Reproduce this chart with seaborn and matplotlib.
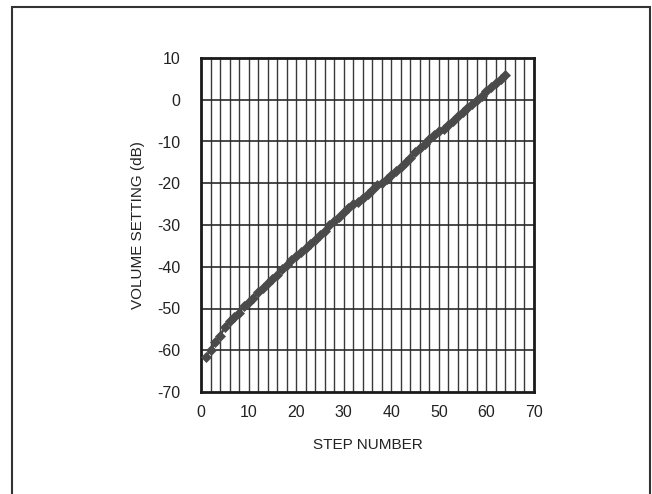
import matplotlib
matplotlib.use("Agg")
import matplotlib.pyplot as plt
import seaborn as sns
import pandas as pd
import numpy as np
from matplotlib.patches import Rectangle

steps = list(range(1, 65))
volume_db = [-61.5, -60, -58, -56.5, -54.5, -53, -52, -51, -49.5, -48.5,
             -47.5, -46, -45, -44, -43, -42, -40.5, -39.5, -38.5, -37.5,
             -36.5, -35.5, -34.5, -33.5, -32.5, -31.5, -30, -29, -28, -27,
             -26, -25, -24.5, -23.5, -22.5, -21.5, -20.5, -20, -19, -18,
             -17, -16, -15, -14, -12.5, -11.5, -10.5, -9.5, -8.5, -7.5,
             -7, -6, -5, -4, -3, -2, -1, 0, 1, 2,
             3, 4, 5, 6]
x_ticks = [0, 10, 20, 30, 40, 50, 60, 70]
y_ticks = [-70, -60, -50, -40, -30, -20, -10, 0, 10]

sns.set_theme(style="white")
plt.rcParams['font.family'] = ['Liberation Sans', 'DejaVu Sans']
plt.rcParams['axes.unicode_minus'] = False

df = pd.DataFrame({"step": steps, "db": volume_db})

fig = plt.figure(figsize=(6.52, 4.94), dpi=100)
ax = fig.add_axes([201/652, 1-392/494, 333/652, 334/494])

# grid
for xv in np.arange(2, 70, 2):
    ax.axvline(xv, color="#3a3a3a", lw=1.0, zorder=1)
for yv in y_ticks[1:-1]:
    ax.axhline(yv, color="#2a2a2a", lw=1.2, zorder=1)

sns.lineplot(data=df, x="step", y="db", ax=ax, color="#4a4a4a", lw=1.8,
             marker="D", markersize=5.5, markeredgewidth=0.5,
             markeredgecolor="#4a4a4a", zorder=3)

ax.set_xlim(0, 70)
ax.set_ylim(-70, 10)
ax.set_xticks(x_ticks)
ax.set_yticks(y_ticks)
ax.tick_params(axis="both", length=0, labelsize=11.5, colors="#222222")
ax.tick_params(axis="x", pad=9)
ax.tick_params(axis="y", pad=15)
for s in ax.spines.values():
    s.set_color("#1a1a1a")
    s.set_linewidth(2.0)
    s.set_visible(True)
ax.set_xlabel("STEP NUMBER", fontsize=11, color="#222222", labelpad=13)
ax.set_ylabel("VOLUME SETTING (dB)", fontsize=11, color="#222222", labelpad=20)
ax.yaxis.set_label_coords((145 - 201) / 333, 0.5)

fig.patches.append(Rectangle((12/652, -0.05), (650-12)/652, 1.05 - 7/494,
                             transform=fig.transFigure, fill=False,
                             edgecolor="#333333", lw=1.5))

fig.savefig("out.png", dpi=100)
